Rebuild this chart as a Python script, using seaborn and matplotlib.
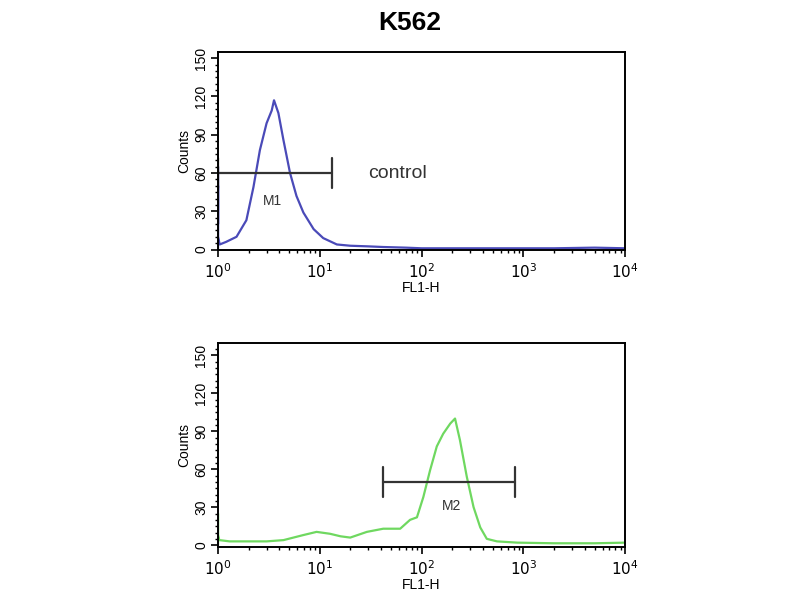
import matplotlib
matplotlib.use("Agg")
import matplotlib.pyplot as plt
import seaborn as sns
import pandas as pd
from matplotlib.ticker import LogLocator, MultipleLocator, FixedLocator

# control histogram (K562, FL1-H)
ctrl_x = [1.0, 1.0, 1.0, 1.0, 1.0, 1.04, 1.2, 1.52, 1.9, 2.23, 2.58, 3.0, 3.37, 3.55, 3.92, 4.39,
          5.1, 5.9, 6.9, 8.7, 10.8, 14.7, 19.9, 30, 42, 70, 100, 200, 500, 1000, 2000, 5000, 10000]
ctrl_y = [0, 65, 20, 50, 10, 4, 6, 10, 23, 49, 78, 99, 109, 117, 107, 86,
          60, 42, 29, 16, 9, 4, 3, 2.5, 2, 1.5, 1, 1, 1, 1, 1, 1.5, 1]

# sample histogram
samp_x = [1.0, 1.0, 1.0, 1.03, 1.3, 2.05, 3.0, 4.4, 6.9, 9.3, 12.6, 16, 19.9, 29, 42, 61.6, 77, 90,
          104, 121, 141, 163, 191, 213, 238, 278, 324, 377, 437, 550, 870, 2000, 5000, 10000]
samp_y = [0, 25, 8, 4, 3, 3, 3, 4, 8, 10.5, 9, 7, 6, 10.5, 13, 13, 20, 22,
          38, 59, 78, 88, 96, 100, 83, 54, 30, 14, 5, 3, 2, 1.5, 1.5, 2]

# gates
m1_range = [1.0, 13.1]
m1_level = 60
m2_range = [42, 830]
m2_level = 50

y_ticks = [0, 30, 60, 90, 120, 150]
x_ticks = [1, 10, 100, 1000, 10000]
x_labels = ["$10^0$", "$10^1$", "$10^2$", "$10^3$", "$10^4$"]

sns.set_style("white")
plt.rcParams["font.family"] = ["Liberation Sans", "DejaVu Sans"]
plt.rcParams["text.color"] = "black"
plt.rcParams["axes.labelcolor"] = "black"
plt.rcParams["xtick.color"] = "black"
plt.rcParams["ytick.color"] = "black"

fig = plt.figure(figsize=(8, 6), dpi=100)
ax1 = fig.add_axes([0.2725, 0.583, 0.509, 0.330])
ax2 = fig.add_axes([0.2725, 0.088, 0.509, 0.340])

df_c = pd.DataFrame({"x": ctrl_x, "y": ctrl_y})
df_s = pd.DataFrame({"x": samp_x, "y": samp_y})
sns.lineplot(data=df_c, x="x", y="y", ax=ax1, color="#4a4ab8", linewidth=1.6,
             estimator=None, sort=False)
sns.lineplot(data=df_s, x="x", y="y", ax=ax2, color="#6fd860", linewidth=1.6,
             estimator=None, sort=False)


def gate(ax, rng, level, label, lx, ly):
    ax.plot(rng, [level, level], color="#333333", lw=1.6)
    for xv in rng:
        ax.plot([xv, xv], [level - 12, level + 12], color="#333333", lw=1.6)
    ax.text(lx, ly, label, ha="center", va="center", fontsize=10, color="#333333")


gate(ax1, m1_range, m1_level, "M1", 3.4, 38)
gate(ax2, m2_range, m2_level, "M2", 198, 31)
ax1.text(58, 60, "control", ha="center", va="center", fontsize=14, color="#333333")

for ax, ylim in ((ax1, (-0.5, 154.7)), (ax2, (-1.6, 159.5))):
    ax.set_xscale("log")
    ax.set_xlim(1, 10000)
    ax.set_ylim(*ylim)
    ax.xaxis.set_major_locator(FixedLocator(x_ticks))
    ax.set_xticklabels(x_labels)
    ax.xaxis.set_minor_locator(LogLocator(base=10, subs=range(2, 10)))
    ax.set_yticks(y_ticks)
    ax.yaxis.set_minor_locator(MultipleLocator(5))
    ax.tick_params(axis="both", which="major", direction="out", length=5, width=1.2,
                   labelsize=11, bottom=True, left=True)
    ax.tick_params(axis="both", which="minor", direction="out", length=2.5, width=1,
                   bottom=True, left=True)
    ax.tick_params(axis="y", labelrotation=90, labelsize=10, pad=2)
    for lab in ax.get_yticklabels():
        lab.set_va("center")
    for sp in ax.spines.values():
        sp.set_visible(True)
        sp.set_color("black")
        sp.set_linewidth(1.4)
    ax.set_xlabel("FL1-H", fontsize=10, labelpad=0)
    ax.set_ylabel("Counts", fontsize=10, labelpad=2)

fig.text(0.5125, 0.962, "K562", ha="center", va="center", fontsize=19, fontweight="bold")

fig.savefig("out.png", dpi=100, facecolor="white")
